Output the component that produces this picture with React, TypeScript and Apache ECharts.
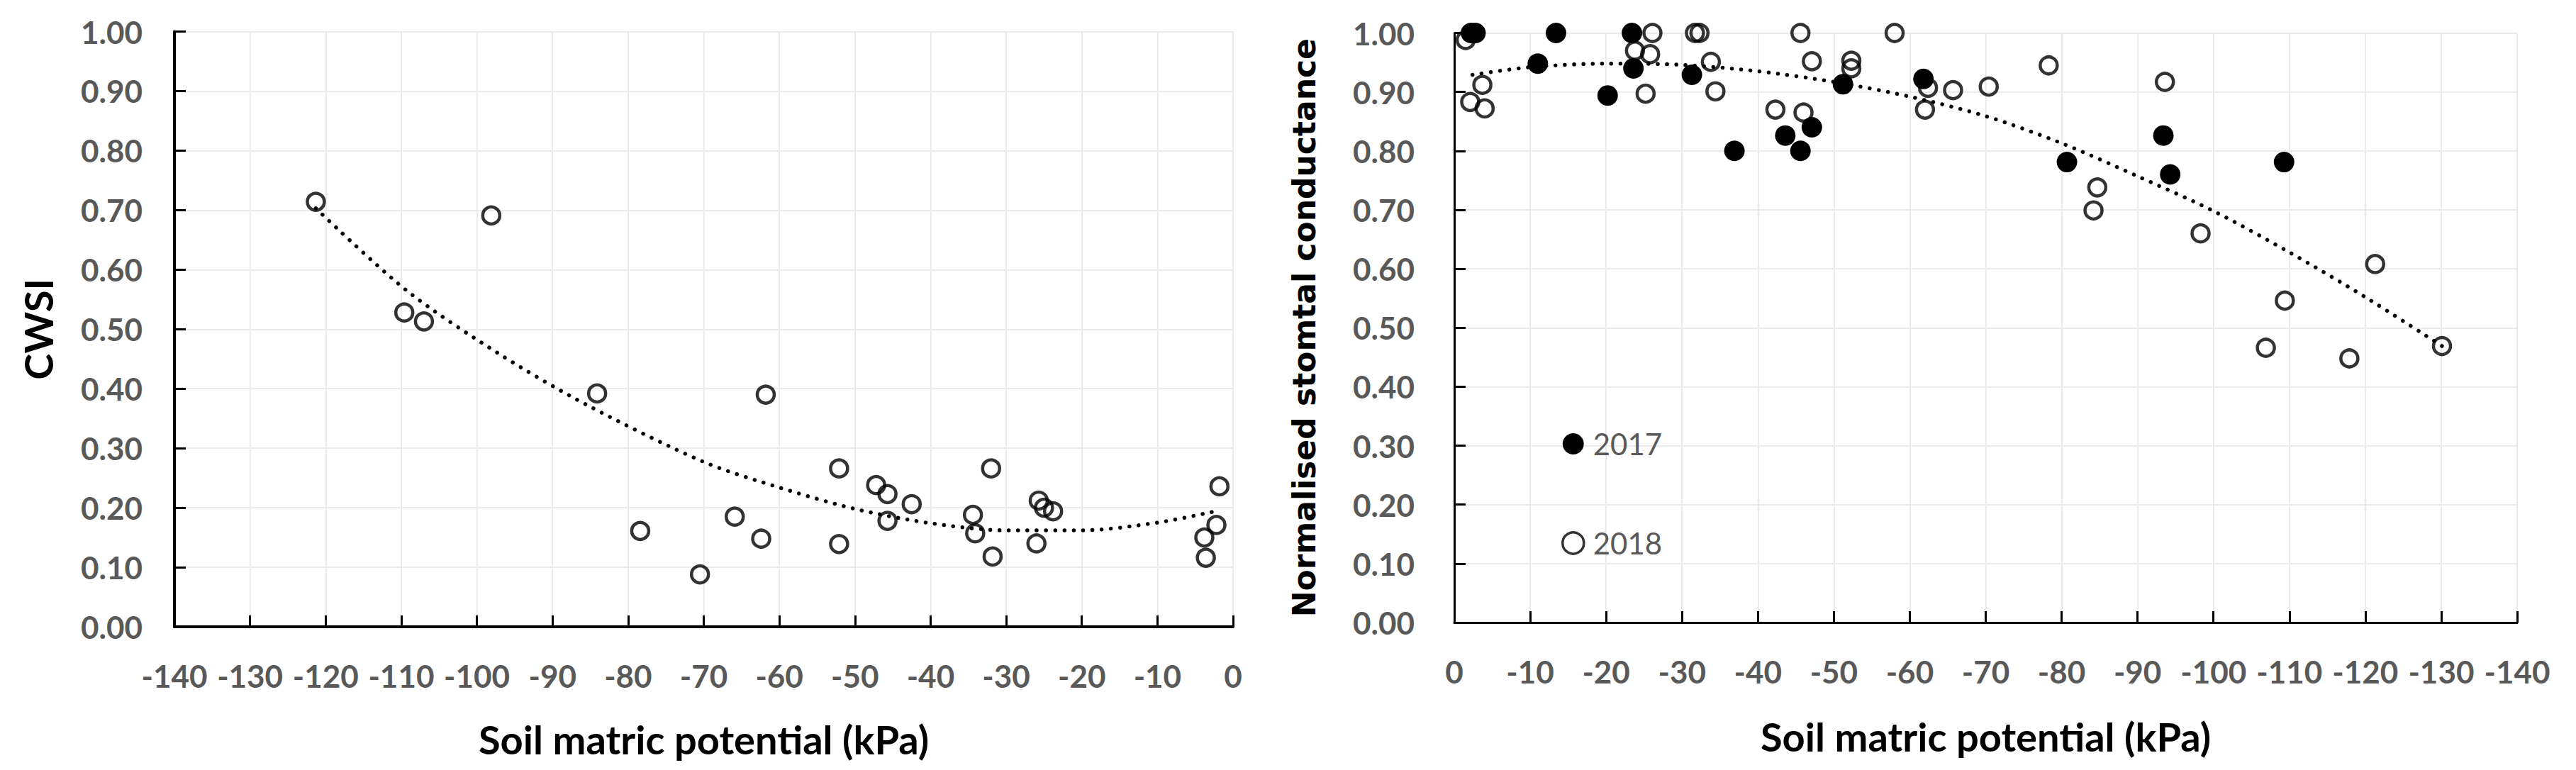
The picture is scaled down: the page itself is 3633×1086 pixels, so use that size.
import React, { useEffect, useRef } from "react";
import * as echarts from "echarts";

// ---- Left panel: CWSI vs soil matric potential ----
const cwsiX = [-121.3, -109.6, -107.0, -98.1, -84.1, -78.4, -70.5, -65.9, -62.4, -61.8, -52.1, -52.1, -47.2, -45.7, -45.7, -42.5, -34.4, -34.1, -32.0, -31.8, -26.0, -25.7, -25.0, -23.8, -3.8, -3.6, -2.2, -1.8];
const cwsiY = [0.714, 0.528, 0.513, 0.691, 0.392, 0.161, 0.088, 0.185, 0.148, 0.39, 0.266, 0.139, 0.238, 0.223, 0.178, 0.206, 0.188, 0.157, 0.266, 0.118, 0.14, 0.212, 0.2, 0.194, 0.15, 0.116, 0.171, 0.236];
const cwsiTrendX = [-121.3, -109.3, -97, -85.5, -70, -60, -50, -40, -30, -20, -10, -2];
const cwsiTrendY = [0.703, 0.565, 0.458, 0.373, 0.277, 0.234, 0.198, 0.174, 0.162, 0.162, 0.175, 0.195];

// ---- Right panel: normalised stomatal conductance ----
const gs2017X = [-2.2, -2.8, -11.0, -13.4, -20.2, -23.4, -23.6, -31.3, -36.9, -43.6, -45.6, -47.1, -51.2, -61.8, -80.7, -93.4, -94.3, -109.3];
const gs2017Y = [1.0, 1.0, 0.948, 1.0, 0.894, 1.0, 0.94, 0.929, 0.8, 0.826, 0.8, 0.84, 0.913, 0.922, 0.781, 0.826, 0.76, 0.781];
const gs2018X = [-1.5, -2.1, -3.7, -4.0, -23.8, -25.2, -25.8, -26.1, -31.7, -32.3, -33.8, -34.4, -42.3, -45.6, -46.0, -47.1, -52.3, -52.3, -58.0, -62.0, -62.4, -65.7, -70.4, -78.3, -84.2, -84.7, -93.6, -98.3, -106.9, -109.4, -117.9, -121.3, -130.1];
const gs2018Y = [0.988, 0.883, 0.912, 0.872, 0.97, 0.897, 0.964, 1.0, 1.0, 1.0, 0.951, 0.901, 0.87, 1.0, 0.865, 0.952, 0.953, 0.94, 1.0, 0.87, 0.907, 0.903, 0.909, 0.945, 0.699, 0.738, 0.917, 0.66, 0.466, 0.546, 0.448, 0.608, 0.469];
const gsTrendX = [-2.4, -10, -20, -30, -40, -50, -60, -70, -80, -90, -100, -110, -120, -130.1];
const gsTrendY = [0.929, 0.942, 0.948, 0.946, 0.935, 0.917, 0.892, 0.859, 0.813, 0.757, 0.698, 0.628, 0.552, 0.469];

const legendNames = ["2017", "2018"];
const xTitle = "Soil matric potential (kPa)";
const leftYTitle = "CWSI";
const rightYTitle = "Normalised stomtal conductance";

const zip = (xs: number[], ys: number[]) => xs.map((x, i) => [x, ys[i]]);

export default function App() {
  const ref = useRef<HTMLDivElement>(null);

  useEffect(() => {
    if (!ref.current) return;
    const chart = echarts.init(ref.current, null, { renderer: "svg" });

    const tickLabel = {
      fontFamily: "Lato",
      fontWeight: "bold" as const,
      fontSize: 44,
      color: "#595959",
    };
    const splitLine = { show: true, lineStyle: { color: "#ebebeb", width: 2 } };

    const makeX = (gridIndex: number, inverse: boolean, nameGap: number, lw: number) => ({
      type: "value",
      gridIndex,
      min: -140,
      max: 0,
      interval: 10,
      inverse,
      name: xTitle,
      nameLocation: "middle",
      nameGap,
      nameTextStyle: { fontFamily: "Lato", fontWeight: "bold", fontSize: 56, color: "#000" },
      axisLine: { show: true, onZero: false, lineStyle: { color: "#000", width: lw } },
      axisTick: { show: true, inside: true, length: 16, lineStyle: { color: "#000", width: 3 } },
      axisLabel: { ...tickLabel, margin: 47, formatter: (v: number) => String(v) },
      splitLine,
    });

    const makeY = (
      gridIndex: number,
      name: string,
      nameGap: number,
      margin: number,
      nameStyle: any,
      lw: number
    ) => ({
      type: "value",
      gridIndex,
      min: 0,
      max: 1,
      interval: 0.1,
      name,
      nameLocation: "middle",
      nameRotate: 90,
      nameGap,
      nameTextStyle: nameStyle,
      axisLine: { show: true, onZero: false, lineStyle: { color: "#000", width: lw } },
      axisTick: { show: true, inside: true, length: 16, lineStyle: { color: "#000", width: 3 } },
      axisLabel: { ...tickLabel, margin, formatter: (v: number) => v.toFixed(2) },
      splitLine,
    });

    const openCircle = {
      color: "transparent",
      borderColor: "#000",
      borderWidth: 4.5,
    };
    const trendStyle = {
      color: "#000",
      width: 5.5,
      type: [0.1, 13],
      cap: "round",
    };

    chart.setOption({
      animation: false,
      backgroundColor: "#ffffff",
      grid: [
        { left: 246, top: 44.5, width: 1493, height: 839.5 },
        { left: 2051, top: 46.5, width: 1499, height: 831.5 },
      ],
      xAxis: [makeX(0, false, 130, 4), makeX(1, true, 132, 3)],
      yAxis: [
        makeY(0, leftYTitle, 165, 45, { fontFamily: "Lato", fontWeight: "bold", fontSize: 56, color: "#000" }, 4),
        makeY(1, rightYTitle, 190, 56, { fontFamily: "DejaVu Sans", fontWeight: "bold", fontSize: 44, color: "#000" }, 3),
      ],
      legend: {
        data: [
          { name: legendNames[0], icon: "circle", itemStyle: { color: "#000", borderWidth: 0 } },
          {
            name: legendNames[1],
            icon: "circle",
            itemStyle: { color: "transparent", borderColor: "#000", borderWidth: 3.5 },
          },
        ],
        orient: "vertical",
        left: 2197,
        top: 600,
        itemWidth: 30,
        itemHeight: 30,
        itemGap: 98,
        selectedMode: false,
        textStyle: {
          fontFamily: "Lato",
          fontSize: 42,
          color: "#595959",
          lineHeight: 30,
          padding: [0, 0, 0, 8],
        },
      },
      series: [
        {
          name: "CWSI trend",
          type: "line",
          xAxisIndex: 0,
          yAxisIndex: 0,
          data: zip(cwsiTrendX, cwsiTrendY),
          smooth: 0.3,
          showSymbol: false,
          lineStyle: trendStyle,
          z: 1,
        },
        {
          name: "CWSI",
          type: "scatter",
          xAxisIndex: 0,
          yAxisIndex: 0,
          data: zip(cwsiX, cwsiY),
          symbol: "circle",
          symbolSize: 24,
          itemStyle: openCircle,
          z: 2,
        },
        {
          name: "gs trend",
          type: "line",
          xAxisIndex: 1,
          yAxisIndex: 1,
          data: zip(gsTrendX, gsTrendY),
          smooth: 0.3,
          showSymbol: false,
          lineStyle: trendStyle,
          z: 1,
        },
        {
          name: legendNames[1],
          type: "scatter",
          xAxisIndex: 1,
          yAxisIndex: 1,
          data: zip(gs2018X, gs2018Y),
          symbol: "circle",
          symbolSize: 24,
          itemStyle: openCircle,
          z: 2,
        },
        {
          name: legendNames[0],
          type: "scatter",
          xAxisIndex: 1,
          yAxisIndex: 1,
          data: zip(gs2017X, gs2017Y),
          symbol: "circle",
          symbolSize: 29,
          itemStyle: { color: "#000", opacity: 1 },
          z: 3,
        },
      ],
    });

    return () => chart.dispose();
  }, []);

  return (
    <div
      ref={ref}
      style={{ position: "fixed", left: 0, top: 0, width: 3633, height: 1086, background: "#fff" }}
    />
  );
}
